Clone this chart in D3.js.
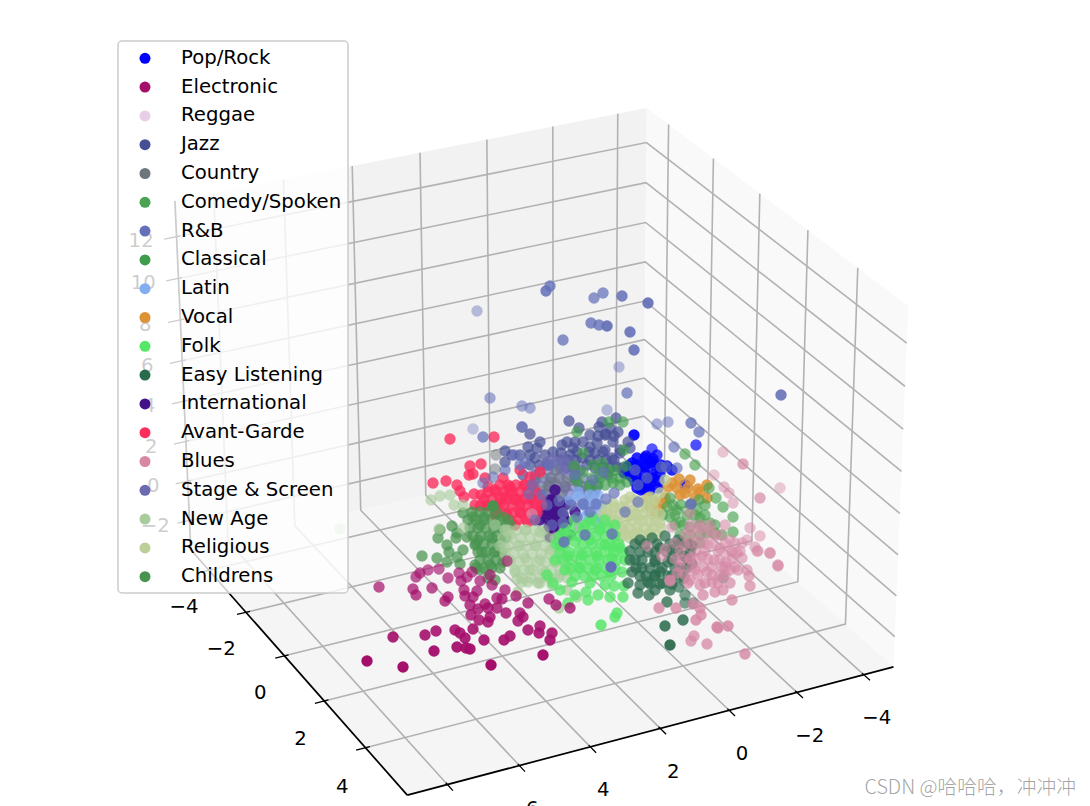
<!DOCTYPE html>
<html><head><meta charset="utf-8">
<script src="https://cdn.jsdelivr.net/npm/d3@7/dist/d3.min.js"></script>
<style>html,body{margin:0;padding:0;background:#fff;overflow:hidden}svg{display:block}</style>
</head><body><svg id="c" width="1090" height="806"></svg>
<script>
// ---------- data: tick values, categories, and points as [viewU, viewV, depth?] ----------
const xTicks = [-4,-2,0,2,4,6,8];
const yTicks = [-6,-4,-2,0,2];
const yLabelTicks = [-4,-2,0,2,4];
const zTicks = [-2,0,2,4,6,8,10,12];
const categories = ["Pop/Rock","Electronic","Reggae","Jazz","Country","Comedy/Spoken","R&B","Classical","Latin","Vocal","Folk","Easy Listening","International","Avant-Garde","Blues","Stage & Screen","New Age","Religious","Childrens"];
const colors = ["#0000ff","#a50f6c","#e8cfe5","#464e96","#6c777c","#4aa351","#6470b8","#3f9c4b","#82aef0","#dc9235","#56e668","#2b6b4d","#41118a","#fb2e5c","#d688a5","#6c6ab0","#a9cc9c","#bdcf98","#48944f"];

const popRock = [[63.4,43.5,.9],[65.2,44.9,.5],[64.6,45.6],[65.2,46.2],[65.7,45.5,.6],[63.7,45.8],[62.7,46.7],[63.2,46.3],[63.8,46.8],[64.5,46.5],[62.4,47.3],[63.2,47.7],[64,48.2],[64.8,48.7],[63.7,48.8],[64.5,49],[65.3,47.8],[66,46.8],[67.2,47],[66.7,46.6],[69.6,44.5,.55],[68.5,48.5],[64.5,45.8],[65.3,45.9],[62.9,46.6],[63.7,46.5],[64.5,46.7],[65.4,46.5],[66.1,46.5],[62.8,47.4],[63.6,47.5],[64.4,47.3],[65.2,47.5],[66,47.4],[63.5,48.2],[64.3,48.1],[65.1,48.3],[65.9,48.1],[64.1,49],[65,49.1],[65.8,48.8]];
const electronic = [[37.9,58.7],[41.3,58.9],[41.6,59.5],[43.2,58.8],[41.6,57.7],[42,57.3],[42.8,57],[43.9,56.9],[44.8,57.8],[44.8,59.7],[44.5,60.1],[45.9,57.3],[46.1,58.1],[46.7,57.7],[47.2,57.2],[48,58.1],[46.4,59],[46.5,59.6],[47.7,59.1],[47.3,59.7],[47,60.5],[48.5,60.4],[47.8,60.9],[47.1,61.5],[47.9,62],[48.8,62.2],[49,61.7],[48.8,60.8],[49.7,60.8],[49.7,59.8],[50.2,59.9],[50.5,59],[51.6,59.6],[50.6,61.3],[52.8,60.3],[52,61.3],[52.3,61.7],[51.8,62.1],[54.9,59.9],[55.6,60.5],[57,60.8],[47.3,62.9],[45.5,63],[46,63.3],[46.5,63.8],[43.6,63.1],[42.5,63.5],[39.3,63.7],[43.4,65.1],[45.7,64.7],[46.6,64.8],[47,64.9],[48.4,64],[50.4,64],[51,63.6],[52.8,63],[53.9,63.3],[54,62.6],[55.2,63.3],[55,64],[54.3,65.5],[49.1,66.5],[36.7,66.1],[40.3,66.7],[50.7,56.1],[49,57.5],[49.2,58.5]];
const reggae = [[57.8,49.7],[61.3,51.5],[62.2,53.7],[60,51.2],[62.5,53],[61,52],[64,52],[63,50.5]];
const jazz = [[56.9,42.1],[57.9,42.8],[59.9,42.7],[60.2,42.2],[61.6,41.8],[61,42.8],[61.8,43.2],[60.5,43.5],[61.3,44.2],[62.8,44.2],[56.7,44.2],[56.2,44.5],[57.3,44.8],[59,44.7],[59.7,44.3],[60.5,45],[62,45],[63,44.8],[57,45.5],[58.2,45.8],[59.5,45.3],[61.2,45.8],[58.7,46.5],[60.3,46.7],[61.7,46.7],[60.8,47.5],[53,43.4],[52.2,42.7,.4],[50.5,45.1],[50.5,46.2],[54,44.2],[52.8,44.7],[53.7,44.8],[53.5,45.8],[59,43.5],[59.8,43.6],[60.6,43.4],[61.4,43.6],[57.5,44.2],[58.3,44.2],[55.3,45.2],[56.1,45.3],[57.7,45.2],[58.9,45.2],[60.3,45.2],[62,45.3],[56,46],[56.8,46],[57.6,46],[59,46],[59.8,46],[60.6,46],[61.4,46],[56.6,46.8],[57.4,46.8],[59.5,46.8],[61,46.8],[62.2,46.8],[51.2,45.5],[52,45.5],[53,45.5],[54.5,45.5],[53,46.5],[54,46.5],[54.8,46.5],[52.3,47.5],[53.5,47.5]];
const country = [[49.6,45.5,.3],[49.5,46.9,.3],[55.5,47],[57,48],[54.5,49],[56,49.5],[57.5,46.8],[57.9,52.7],[55,47.8],[56.5,48.7],[54,47.5],[58,49],[55.5,48.3],[54.8,48.6],[56,47.8],[53.5,48.6]];
const comedy = [[68.5,45.4],[69.5,46.5],[70.9,48.8],[71.6,49.8],[69.9,50],[72.3,50.7],[73.3,51.7],[73.3,53.2],[67,49.8],[66.7,50.7],[68,52.2],[69,52.7],[70,51.8],[71,52.3],[68.3,54.3],[70.7,53.3],[67.7,51],[68.7,51.5],[69.7,51],[67,51.7],[71.5,53.3],[67.3,50.5],[68.1,50.5],[69,50.5],[70.5,50.5],[66.3,51.5],[67.5,51.5],[69.5,51.5],[70.5,51.5],[67.5,52.5],[68.3,52.5],[70,52.5],[71.5,52.5],[68,53.5],[69,53.5],[70,53.5],[72.2,53.5],[69,54.3],[70,54.3]];
const rnb = [[55,28.6,.7],[54.6,29.1,.8],[47.7,31.1,.2],[59.4,29.8,.6],[60.3,29.3,.6],[62.2,29.6,.8],[64.8,30.3,.9],[59.1,32.3,.7],[59.9,32.5,.7],[60.7,32.6,.9],[63,33.2,.85],[63.4,35,.85],[56.3,34,.65],[61.9,36.7,.2],[49,39.8,.4],[52.2,40.6,.35],[53,40.8,.35],[47.3,42.9,.1],[48.3,43.7,.6],[52.2,42.7,.4],[48.3,48.3,.4],[49.3,47.7,.4],[62.7,39.3,.6],[60.7,41,.2],[65.7,42.4,.3],[66.8,42.2,.3],[69.1,42.3,.65],[69.9,43.2,.6],[67.4,44.7,.5],[78.1,39.5,.85],[56.4,54.2,.75],[61.1,56.7,.97],[61.2,53.4,.7],[62.5,51.2,.5],[63.8,50.2,.5],[61.4,49.3,.55],[60.6,49.9,.55],[69.1,50.4,.8],[59.6,50.4,.6],[58.3,50.4,.6],[59,51.2,.6],[56.3,52.3,.6],[64.7,47.8,.5],[63.8,48.5,.5],[66.1,46.7,.5],[66.6,46.7,.5],[67.7,46.8,.5],[63.5,47,.5],[52,46.5,.5],[50.5,47,.5],[51.5,45.5,.4],[52.5,46.3,.5],[53.5,52,.5],[58.5,53.5,.7],[52.9,49.4,.45],[54.7,50.5,.5],[55.9,50.1,.5],[57.1,50.5,.55],[56.3,51.3,.55],[57.7,51.7,.55],[55.2,52.5,.5],[54.2,49.5,.5],[53.2,48.5,.5],[55,46.5,.45],[57.5,47.5,.5],[59.3,48,.5],[60.3,47.2,.5]];
const classical = [[60.9,42.2],[62.3,42.2],[57.7,43.2],[58.3,45.3],[62.4,45],[57.4,46.6],[58.3,47.2],[59.3,46.5],[59.2,47.8],[60.5,48.5],[62.7,48.2],[61.3,48.3],[60,47.5],[62.6,46.6],[57.8,48.2],[59,48.7],[60.2,46.3],[60,47],[60.8,47],[61.5,47],[57.5,47.8],[60,47.8],[61.2,47.8],[62,47.8],[59,48.5],[59.8,48.5],[62,48.5]];
const latin = [[59.8,49.5],[60,51.3],[59.3,51.7],[58.3,50.5],[58.8,51.2],[57.8,49.2],[57,50],[58.5,51.7],[58,49.7],[59.2,50.3],[59.8,50.5],[59,49.5],[59,52],[59.7,52.3],[60.3,51.9],[60.2,50.6]];
const vocal = [[67.9,47.9],[67.7,48.8],[68.8,48.8],[69.8,48.9],[68.5,49.3],[70.7,48.5],[66.8,48.7],[69.5,49.7],[70.7,49.8],[66,51],[66.5,49.8],[64.8,49.8],[65,50.7],[67.2,48.3],[68,49.5],[69,48],[70,49.2],[65.5,50.2],[66.3,50.3],[65.6,51.3]];
const folk = [[60.1,62.5],[61.5,61.7],[61.7,61.3],[62.3,59.7],[61,59.7],[59.8,59.5],[58.8,60],[58.6,59.2],[61.4,58.6],[62.4,58.6],[57,53],[58.5,52.5],[60,53],[61.5,53.5],[56,54.5],[57.5,54.2],[59,54],[60.5,54.5],[62,54.8],[55.5,56],[56.8,55.6],[58.2,55.5],[59.7,55.6],[61.2,55.8],[62.5,56],[56.5,57],[58,56.8],[59.5,57],[61,57.2],[62.2,57.2],[57.2,58.2],[59,58.3],[60.5,58.5],[57.5,59.5],[56,59],[56.8,60.3],[54.7,57.5],[55.3,58.3],[59.3,51.8],[61.5,52.5],[60,52.7],[56.3,53.3],[61.3,54.7],[57.4,52],[59,52],[60.5,52],[56.5,52.8],[58.3,52.8],[59.2,52.8],[60.8,52.8],[56,53.6],[56.9,53.6],[57.8,53.6],[58.7,53.6],[59.6,53.6],[60.5,53.6],[61.4,53.6],[55.6,54.4],[56.5,54.4],[58.3,54.4],[59.2,54.4],[60.1,54.4],[61,54.4],[61.9,54.4],[56,55.2],[56.9,55.2],[57.8,55.2],[58.7,55.2],[59.6,55.2],[60.5,55.2],[61.4,55.2],[62.3,55.2],[56.3,56],[57.2,56],[58.1,56],[59,56],[59.9,56],[60.8,56],[61.7,56],[57,56.8],[57.9,56.8],[58.8,56.8],[59.7,56.8],[60.6,56.8],[61.5,56.8],[57.5,57.6],[58.4,57.6],[59.3,57.6],[60.2,57.6],[61.1,57.6]];
const easy = [[63,55.1],[62.8,58.3],[63.8,59.3],[64.9,59.5],[66.7,60.2],[66.5,62.6],[68.3,62],[67,64.5],[67.9,58.7,.5],[68.5,59.5,.45],[68.5,60.3,.45],[69.3,60.3,.4],[72.3,57.8,.3],[66.3,58.3],[64.8,58.2],[65.5,57.5],[64,54],[65.2,53.8],[66.5,53.6],[67.8,54],[69,54.5],[63.5,56],[64.8,55.2],[66,54.8],[67.2,55],[68.4,55.6],[64.2,56.8],[65.5,56.2],[66.8,56.2],[68,56.8],[69.2,56.4],[63.2,57.2],[64.6,57.6],[66,57.2],[67.2,57.6],[68.4,57.8],[64,58.5],[65.5,59],[67,59],[63.5,54.4],[64.5,54.4],[65.7,54.4],[67,54.4],[68,54.4],[69.2,54.6],[64,55.2],[65.5,55.2],[66.7,55.2],[67.8,55.2],[69,55.2],[63,56],[64.2,56],[65.5,56],[67.2,56],[68.8,56],[63.6,56.8],[65,56.8],[66.2,56.8],[67.5,56.8],[68.6,56.8],[64,57.6],[65.5,57.6],[66.8,57.6],[68,57.6],[65,58.4],[66,58.4],[67.2,58.4]];
const international = [[55,50],[55.7,51.2],[54.7,51.8],[55.3,53],[54.2,51],[55.2,50],[55.7,51.3],[55.3,52.3],[56,52.7],[55,53.7],[56.7,52.3],[56.5,50.5],[57.5,51.2],[57,53.5],[54,52],[55.5,49],[54.9,51],[55.7,50.7],[56.3,51.5],[55.5,52],[54.9,52.7],[56.3,53.3],[55.5,53.8],[56.5,52],[55.9,54],[55,51.5]];
const avantGarde = [[49.5,49],[51,48.7],[52.5,48.5],[50,50.3],[51.5,50],[53,49.8],[49.5,51.5],[50.7,51.5],[52,51.2],[53.5,51],[52.8,52.2],[51.5,52.5],[54.2,50.5],[53,47.7],[52,47],[54,47.2],[50.3,47.8],[48.8,48.7],[48.1,49.5],[48.6,50.5],[47.5,50.5],[47.4,49.4],[46,49.1],[46.9,47.5],[48.1,46.4],[47,46.6],[44.6,48.1],[43.3,48.3],[45.7,48.5],[45,43.9],[49.4,43.7],[46.4,49.7],[47.3,47.4],[48.5,47.8],[51,49],[52,50.2],[50.5,49.7],[50,48.5],[50.8,48.5],[51.6,48.5],[52.4,48.5],[53.2,48.5],[48.8,49.2],[49.6,49.2],[50.4,49.2],[51.2,49.2],[52,49.2],[52.8,49.2],[53.6,49.2],[48.4,49.9],[49.2,49.9],[50,49.9],[50.8,49.9],[51.6,49.9],[52.4,49.9],[53.2,49.9],[54,49.9],[48,50.6],[48.8,50.6],[49.6,50.6],[50.4,50.6],[51.2,50.6],[52,50.6],[52.8,50.6],[53.6,50.6],[49.7,51.3],[50.5,51.3],[51.3,51.3],[52.1,51.3],[52.9,51.3],[53.7,51.3],[51,52],[51.8,52],[52.6,52],[53.4,52]];
const blues = [[65.9,60.8],[67.6,60.8],[69.3,60.4],[70,60.8],[70.1,61.5],[69.6,62],[71.7,62.7],[71.8,62.8],[72.8,62.6],[69.4,63.6,.6],[69.1,64.1,.6],[70.7,64.4,.65],[74.5,65.4,.75],[73.2,60],[70.3,59.5],[71.5,59.2],[72.3,59],[75,58.6],[74.9,57.6],[74.7,57],[73,57],[72.5,56.7],[77.8,56.6],[77,55.3],[75.8,55.1],[75.5,54.7],[73.7,55.3],[67.7,57.3],[67,58.1],[64.7,54.6],[66.5,54.9],[66.2,55.6],[72.3,45.2,.25],[74.3,46.4,.6],[71.4,47.5,.2],[72.4,48.7,.3],[72.9,49.3,.3],[73.3,50.3,.3],[78,48.8,.2],[76,49.8,.55],[75,52.8,.3],[76,53.6,.3],[74.2,54.3,.3],[74.7,54,.3],[75.7,55.1,.35],[77,55.3,.4],[77.8,56.5,.5],[67.2,52.7],[69,51.3],[69,53],[70,52.8],[71,53],[72,53.5],[73,54],[68.5,54.5],[69.7,54.2],[70.8,54.5],[72,54.8],[73.2,55.2],[74.2,55.8],[69,55.8],[70.2,55.6],[71.4,56],[72.6,56.2],[73.8,57],[69.5,57],[70.7,57.2],[72,57.5],[70,58.5],[71.2,58.2],[69,58],[68.2,56],[53.2,51.4,.6],[69,52.5],[70,52.5],[71,52.5],[72.5,52.5],[68.5,53.5],[69.5,53.5],[70.5,53.5],[71.5,53.5],[67.5,54.3],[69,54.3],[70.3,54.3],[71.3,54.3],[72.5,54.3],[73.5,54.3],[68,55.1],[69.5,55.1],[70.5,55.1],[71.8,55.1],[72.8,55.1],[74,55.1],[67.5,55.9],[69,55.9],[69.7,55.9],[70.8,55.9],[72,55.9],[73.2,55.9],[68,56.7],[69.2,56.7],[70.3,56.7],[71.2,56.7],[72.2,56.7],[73.5,56.7],[68.5,57.5],[69.8,57.5],[71.2,57.5],[72.5,57.5],[68.8,58.3],[70.5,58.3],[71.8,58.3],[73,58.3],[67,58]];
const stage = [[54.5,46.5],[56,46.8],[57.5,47.5],[53.5,48],[55,48.2],[56.5,48.8],[58,49],[59.5,49],[54,49.5],[55.5,50],[57,50.2],[58.5,50.5],[54.5,51],[53.2,50.2],[56,51.5],[57.5,51.8],[55.2,45.9],[56.3,45.8],[58,47],[54.8,46.2],[55.6,46.2],[56.4,46.2],[57.2,46.2],[54,47],[54.8,47],[55.6,47],[56.4,47],[57.2,47],[58,47],[53.5,47.8],[54.3,47.8],[55.1,47.8],[55.9,47.8],[56.7,47.8],[57.5,47.8],[58.3,47.8],[53.3,48.6],[54.1,48.6],[54.9,48.6],[55.7,48.6],[56.5,48.6],[57.3,48.6],[58.1,48.6],[58.9,48.6],[59.7,48.6],[53.8,49.4],[54.6,49.4],[55.4,49.4],[56.2,49.4],[57,49.4],[57.8,49.4],[58.6,49.4],[59.4,49.4],[54.4,50.2],[55.2,50.2],[56,50.2],[56.8,50.2],[57.6,50.2],[58.4,50.2]];
const newAge = [[51,53.5],[52.5,53],[54,53.2],[55.5,53.8],[50.5,54.8],[52,54.5],[53.5,54.5],[55,55],[51,56],[52.5,55.8],[54,56],[55.5,56.2],[51.5,57.2],[53,57],[54.5,57.2],[56,57.5],[52.2,58.2],[53.8,58.3],[55.2,58.5],[51.7,57.9],[52.8,58.2],[54,58.3],[55,57.8],[51.8,59.2],[55.9,60.8],[56.7,59],[57.7,59.7],[43.1,50],[44,49.6],[45,49.5],[45.4,50.5],[46.3,50.5],[46.3,52.8],[43.9,52.9],[34,52.9,.5],[49.5,52.5],[50.5,53],[50.8,53],[51.7,53],[52.6,53],[53.5,53],[54.4,53],[50.3,53.8],[51.2,53.8],[52.1,53.8],[53,53.8],[53.9,53.8],[54.8,53.8],[55.7,53.8],[50,54.6],[50.9,54.6],[51.8,54.6],[52.7,54.6],[53.6,54.6],[54.5,54.6],[55.4,54.6],[50.5,55.4],[51.4,55.4],[52.3,55.4],[53.2,55.4],[54.1,55.4],[55,55.4],[55.9,55.4],[51,56.2],[51.9,56.2],[52.8,56.2],[53.7,56.2],[54.6,56.2],[55.5,56.2],[56.4,56.2],[51.5,57],[52.4,57],[53.3,57],[54.2,57],[55.1,57],[56,57],[56.9,57],[52.2,57.8],[53.1,57.8],[54,57.8],[54.9,57.8],[55.8,57.8],[56.7,57.8]];
const religious = [[66.5,48],[66,49.3],[65,49.7],[63,49.7],[61.3,50.3],[60.7,51.3],[62,50.7],[63.3,51],[64.7,50.8],[65.3,50.7],[61.3,52],[62.5,52],[63.8,51.8],[65,52.2],[66,52.3],[62.3,53],[63.7,53.2],[65,53.2],[62,53.7],[63,53.8],[62.5,50],[63.5,50],[64.5,50],[65.5,50],[60.6,50.7],[61.4,50.7],[62.5,50.7],[64,50.7],[60.3,51.4],[61.1,51.4],[62,51.4],[62.8,51.4],[63.6,51.4],[64.4,51.4],[65.2,51.4],[66,51.4],[60.7,52.1],[61.6,52.1],[63.2,52.1],[64.2,52.1],[65.5,52.1],[61.3,52.8],[62.1,52.8],[62.9,52.8],[63.7,52.8],[64.5,52.8],[65.3,52.8],[66.1,52.8],[62.5,53.5],[63.3,53.5],[64.1,53.5],[64.9,53.5],[65.7,53.5]];
const childrens = [[49.3,50.6,.97],[42.2,55.6],[43.8,53.8],[44,53],[45.2,52.6],[45.7,53.3],[45.6,53.8],[46.7,53.7],[44.7,54.5],[44.9,55.2],[46.3,55],[47.5,54.5],[45.7,55.7],[43.7,55.8],[44.7,56.2],[46,56.4],[46.3,51.3],[47.3,51.7],[48.4,51.7],[50.3,51.7],[48,52.5],[49.5,52.5],[51,52.5],[47.8,54],[49.2,53.8],[50.6,53.8],[48.2,55.2],[49.6,55.2],[47.5,56.5],[49,56.5],[50.3,56.2],[48.8,57.8],[48,57],[49.5,58],[47.2,51.2],[48,51.2],[48.8,51.2],[49.6,51.2],[46.8,52],[47.6,52],[48.4,52],[49.2,52],[50,52],[50.8,52],[47,52.8],[47.8,52.8],[48.6,52.8],[49.4,52.8],[50.2,52.8],[47.3,53.6],[48.1,53.6],[48.9,53.6],[49.7,53.6],[50.5,53.6],[47.6,54.4],[48.4,54.4],[49.2,54.4],[50,54.4],[47.8,55.2],[48.6,55.2],[49.4,55.2],[50.2,55.2],[48,56],[48.8,56],[49.6,56],[47.6,56.8],[48.4,56.8],[49.2,56.8],[50,56.8]];

const seriesByName = {"Pop/Rock":popRock,"Electronic":electronic,"Reggae":reggae,"Jazz":jazz,"Country":country,"Comedy/Spoken":comedy,"R&B":rnb,"Classical":classical,"Latin":latin,"Vocal":vocal,"Folk":folk,"Easy Listening":easy,"International":international,"Avant-Garde":avantGarde,"Blues":blues,"Stage & Screen":stage,"New Age":newAge,"Religious":religious,"Childrens":childrens};
const drawOrder = ["Pop/Rock","Vocal","Comedy/Spoken","Jazz","Stage & Screen","Country","Classical","Reggae","International","Latin","Religious","Avant-Garde","Childrens","New Age","Folk","Easy Listening","Blues","Electronic","R&B"];
const depthFloor = {"Pop/Rock":.85,"Electronic":.55,"Reggae":.6,"Jazz":.7,"Country":.45,"Comedy/Spoken":.65,"R&B":.35,"Classical":.65,"Latin":.75,"Vocal":.85,"Folk":.78,"Easy Listening":.72,"International":.9,"Avant-Garde":.8,"Blues":.55,"Stage & Screen":.6,"New Age":.62,"Religious":.75,"Childrens":.72};

// ---------- geometry ----------
const svg = d3.select("#c");
const W = 1090, H = 806;
const ux = d3.scaleLinear().domain([-4.9,9.1]).range([0,1]);
const uy = d3.scaleLinear().domain([-7,3.95]).range([0,1]);
const uz = d3.scaleLinear().domain([-3.5,13.7]).range([0,1]);
const [x0,x1] = ux.domain(), [y0,y1] = uy.domain(), [z0,z1] = uz.domain();

// camera fitted to the box corners on the page
const corners = [[0,0,0,645,448],[1,0,0,190,547],[0,1,0,893,664],[1,1,0,407,797],[0,0,1,645,106],[1,0,1,176,202],[0,1,1,909,307]];
function fitCamera(pts){
  const A=[],b=[];
  pts.forEach(([X,Y,Z,u,v])=>{u/=1000;v/=1000;
    A.push([X,Y,Z,1,0,0,0,0,-u*X,-u*Y,-u*Z]);b.push(u);
    A.push([0,0,0,0,X,Y,Z,1,-v*X,-v*Y,-v*Z]);b.push(v);});
  const n=11,M=[];
  for(let i=0;i<n;i++){const r=[];
    for(let j=0;j<n;j++)r.push(d3.sum(A,a=>a[i]*a[j])+(i===j?1e-9:0));
    r.push(d3.sum(A,(a,k)=>a[i]*b[k]));M.push(r);}
  for(let i=0;i<n;i++){let p=i;for(let r=i+1;r<n;r++)if(Math.abs(M[r][i])>Math.abs(M[p][i]))p=r;
    [M[i],M[p]]=[M[p],M[i]];
    for(let r=0;r<n;r++){if(r===i)continue;const f=M[r][i]/M[i][i];for(let c=i;c<=n;c++)M[r][c]-=f*M[i][c];}}
  return M.map((r,i)=>r[n]/r[i]);
}
const P = fitCamera(corners);
function proj(x,y,z){
  const X=ux(x),Y=uy(y),Z=uz(z);
  const w=P[8]*X+P[9]*Y+P[10]*Z+1;
  return [1000*(P[0]*X+P[1]*Y+P[2]*Z+P[3])/w, 1000*(P[4]*X+P[5]*Y+P[6]*Z+P[7])/w];
}
const path3 = pts => "M"+pts.map(p=>proj(...p).join(",")).join("L");
const viewX = d3.scaleLinear().domain([0,109]).range([0,W]);
const viewY = d3.scaleLinear().domain([0,80.6]).range([0,H]);
const font = "'DejaVu Sans',sans-serif", fs = 19.7;

// panes
const g = svg.append("g");
const pane=(pts,fill)=>g.append("path").attr("d",path3(pts)+"Z").attr("fill",fill);
pane([[x0,y0,z0],[x1,y0,z0],[x1,y0,z1],[x0,y0,z1]],"#f2f2f2");
pane([[x0,y0,z0],[x0,y1,z0],[x0,y1,z1],[x0,y0,z1]],"#f9f9f9");
pane([[x0,y0,z0],[x1,y0,z0],[x1,y1,z0],[x0,y1,z0]],"#f5f5f5");

// grid
const grid=pts=>g.append("path").attr("d",path3(pts)).attr("fill","none").attr("stroke","#b2b2b2").attr("stroke-width",1.6);
xTicks.forEach(x=>{grid([[x,y0,z1],[x,y0,z0],[x,y1,z0]]);});
yTicks.forEach(y=>{grid([[x0,y,z1],[x0,y,z0],[x1,y,z0]]);});
zTicks.forEach(z=>{grid([[x1,y0,z],[x0,y0,z],[x0,y1,z]]);});

// axes and ticks
const black=(pts,w)=>g.append("path").attr("d",path3(pts)).attr("fill","none").attr("stroke","#000").attr("stroke-width",w);
black([[x0,y1,z0],[x1,y1,z0]],1.7);
black([[x1,y0,z0],[x1,y1,z0]],1.7);
black([[x1,y0,z0],[x1,y0,z1]],1.7);
const label=(p,dx,dy,t)=>g.append("text").attr("x",p[0]+dx).attr("y",p[1]+dy).attr("text-anchor","middle").attr("dominant-baseline","central").attr("font-family",font).attr("font-size",fs).attr("fill","#000").text(String(t).replace("-","\u2212"));
xTicks.forEach(x=>{black([[x,y1-.07,z0],[x,y1+.25,z0]],1.3);label(proj(x,y1,z0),13,43,x);});
yTicks.forEach(y=>{black([[x1-.12,y,z0],[x1+.26,y,z0]],1.3);});
yLabelTicks.forEach(y=>{label(proj(x1,y,z0),-62-(y+4)*.5,-6-(y+4)*.5,y);});
zTicks.forEach(z=>{black([[x1-.1,y0,z],[x1+.35,y0,z]],1.3);label(proj(x1+1,y0,z),0,-3,z);});

// points
const depthAlpha = d3.scaleLinear().domain([0,1]).range([.3,1]).clamp(true);
const depthFromV = d3.scaleLinear().domain([50,66]).range([.1,1]).clamp(true);
const colorOf = d3.scaleOrdinal().domain(categories).range(colors);
drawOrder.forEach(name=>{
  svg.append("g").selectAll("circle").data(seriesByName[name]).join("circle")
    .attr("cx",d=>viewX(d[0])).attr("cy",d=>viewY(d[1])).attr("r",5.7)
    .attr("fill",colorOf(name))
    .attr("fill-opacity",d=>d.length>2?depthAlpha(d[2]):Math.max(depthAlpha(depthFromV(d[1])),depthFloor[name]));
});

// legend
const lg = svg.append("g");
lg.append("rect").attr("x",118).attr("y",41).attr("width",230).attr("height",552).attr("rx",4)
  .attr("fill","#fff").attr("fill-opacity",.8).attr("stroke","#ccc").attr("stroke-width",1.5);
const rowY = d3.scaleLinear().domain([0,18]).range([58.3,576.7]);
categories.forEach((c,i)=>{
  lg.append("circle").attr("cx",145).attr("cy",rowY(i)).attr("r",5.5).attr("fill",colorOf(c));
  lg.append("text").attr("x",181).attr("y",rowY(i)+5.5).attr("font-family",font).attr("font-size",fs).attr("fill","#000").text(c);
});
// watermark
svg.append("text").attr("x",1076).attr("y",794).attr("text-anchor","end").attr("font-family","'Noto Sans CJK SC'").attr("font-weight",300).attr("font-size",19.8).attr("fill","#999").attr("fill-opacity",.9).text("CSDN @哈哈哈，冲冲冲");
</script></body></html>
